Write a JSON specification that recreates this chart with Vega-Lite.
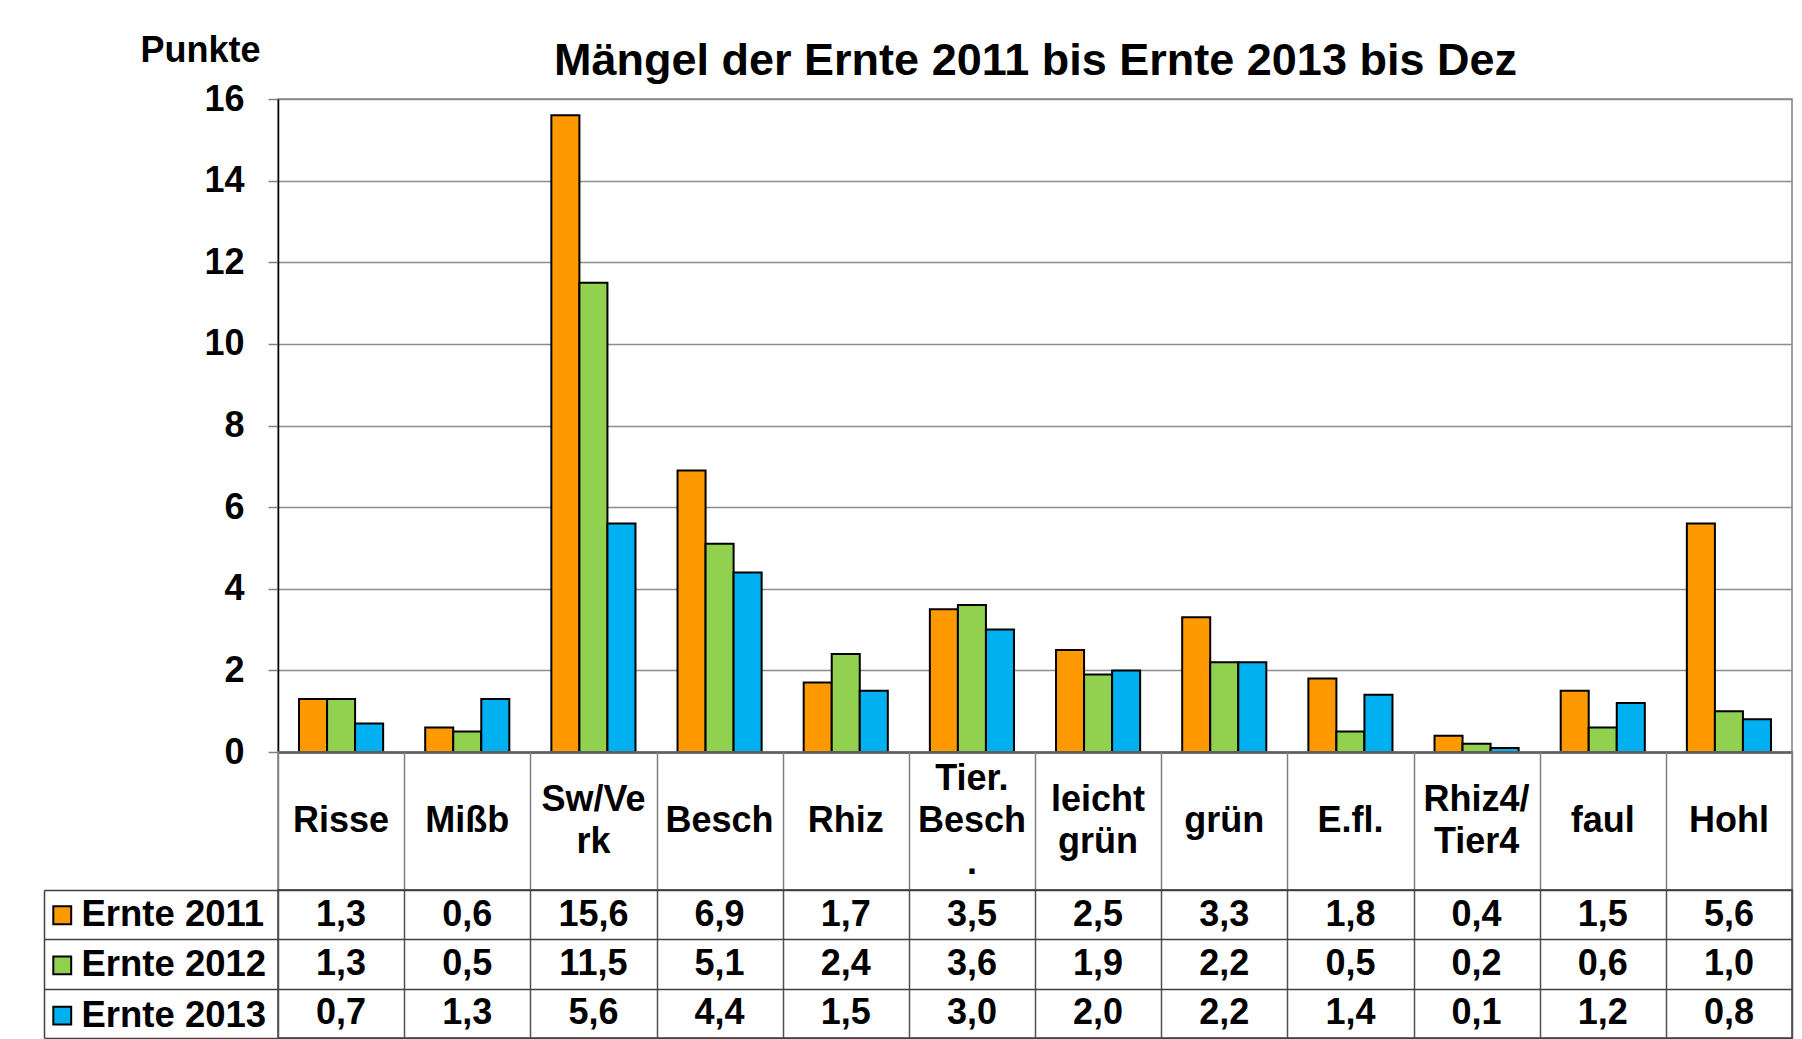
{
  "$schema": "https://vega.github.io/schema/vega-lite/v6.json",
  "background": "white",
  "padding": {"left": 42, "top": 31, "right": 10, "bottom": 0},
  "spacing": 0,
  "bounds": "flush",
  "datasets": {
    "main": [
      {"cat": "Risse", "series": "Ernte 2011", "value": 1.3},
      {"cat": "Risse", "series": "Ernte 2012", "value": 1.3},
      {"cat": "Risse", "series": "Ernte 2013", "value": 0.7},
      {"cat": "Mißb", "series": "Ernte 2011", "value": 0.6},
      {"cat": "Mißb", "series": "Ernte 2012", "value": 0.5},
      {"cat": "Mißb", "series": "Ernte 2013", "value": 1.3},
      {"cat": "Sw/Verk", "series": "Ernte 2011", "value": 15.6},
      {"cat": "Sw/Verk", "series": "Ernte 2012", "value": 11.5},
      {"cat": "Sw/Verk", "series": "Ernte 2013", "value": 5.6},
      {"cat": "Besch", "series": "Ernte 2011", "value": 6.9},
      {"cat": "Besch", "series": "Ernte 2012", "value": 5.1},
      {"cat": "Besch", "series": "Ernte 2013", "value": 4.4},
      {"cat": "Rhiz", "series": "Ernte 2011", "value": 1.7},
      {"cat": "Rhiz", "series": "Ernte 2012", "value": 2.4},
      {"cat": "Rhiz", "series": "Ernte 2013", "value": 1.5},
      {"cat": "Tier.Besch.", "series": "Ernte 2011", "value": 3.5},
      {"cat": "Tier.Besch.", "series": "Ernte 2012", "value": 3.6},
      {"cat": "Tier.Besch.", "series": "Ernte 2013", "value": 3.0},
      {"cat": "leicht grün", "series": "Ernte 2011", "value": 2.5},
      {"cat": "leicht grün", "series": "Ernte 2012", "value": 1.9},
      {"cat": "leicht grün", "series": "Ernte 2013", "value": 2.0},
      {"cat": "grün", "series": "Ernte 2011", "value": 3.3},
      {"cat": "grün", "series": "Ernte 2012", "value": 2.2},
      {"cat": "grün", "series": "Ernte 2013", "value": 2.2},
      {"cat": "E.fl.", "series": "Ernte 2011", "value": 1.8},
      {"cat": "E.fl.", "series": "Ernte 2012", "value": 0.5},
      {"cat": "E.fl.", "series": "Ernte 2013", "value": 1.4},
      {"cat": "Rhiz4/Tier4", "series": "Ernte 2011", "value": 0.4},
      {"cat": "Rhiz4/Tier4", "series": "Ernte 2012", "value": 0.2},
      {"cat": "Rhiz4/Tier4", "series": "Ernte 2013", "value": 0.1},
      {"cat": "faul", "series": "Ernte 2011", "value": 1.5},
      {"cat": "faul", "series": "Ernte 2012", "value": 0.6},
      {"cat": "faul", "series": "Ernte 2013", "value": 1.2},
      {"cat": "Hohl", "series": "Ernte 2011", "value": 5.6},
      {"cat": "Hohl", "series": "Ernte 2012", "value": 1.0},
      {"cat": "Hohl", "series": "Ernte 2013", "value": 0.8}
    ],
    "cats": [
      {"cat": "Risse", "label": "Risse"},
      {"cat": "Mißb", "label": "Mißb"},
      {"cat": "Sw/Verk", "label": "Sw/Ve\nrk"},
      {"cat": "Besch", "label": "Besch"},
      {"cat": "Rhiz", "label": "Rhiz"},
      {"cat": "Tier.Besch.", "label": "Tier.\nBesch\n."},
      {"cat": "leicht grün", "label": "leicht\ngrün"},
      {"cat": "grün", "label": "grün"},
      {"cat": "E.fl.", "label": "E.fl."},
      {"cat": "Rhiz4/Tier4", "label": "Rhiz4/\nTier4"},
      {"cat": "faul", "label": "faul"},
      {"cat": "Hohl", "label": "Hohl"}
    ]
  },
  "vconcat": [
    {
      "width": 1514,
      "height": 653,
      "data": {"name": "main"},
      "encoding": {
        "y": {
          "field": "value", "type": "quantitative",
          "scale": {"domain": [0, 16], "nice": false},
          "axis": {
            "values": [0, 2, 4, 6, 8, 10, 12, 14, 16],
            "labelFontSize": 36, "labelFont": "Liberation Sans", "labelFontWeight": "bold", "labelColor": "black",
            "labelPadding": 24,
            "ticks": true, "tickSize": 10, "tickColor": "#808080", "tickWidth": 1.5,
            "domain": true, "domainColor": "black", "domainWidth": 1.5,
            "grid": true, "gridColor": "#8c8c8c", "gridWidth": 1.5,
            "title": "Punkte", "titleAngle": 0, "titleAlign": "right", "titleBaseline": "middle",
            "titleX": -18, "titleY": -49,
            "titleFontSize": 36, "titleFont": "Liberation Sans", "titleFontWeight": "bold", "titleColor": "black"
          }
        }
      },
      "layer": [
        {
          "mark": {"type": "bar", "stroke": "black", "strokeWidth": 2},
          "encoding": {
            "x": {
              "field": "cat", "type": "nominal",
              "sort": ["Risse", "Mißb", "Sw/Verk", "Besch", "Rhiz", "Tier.Besch.", "leicht grün", "grün", "E.fl.", "Rhiz4/Tier4", "faul", "Hohl"],
              "scale": {"paddingInner": 0.3333, "paddingOuter": 0.1667},
              "axis": {"orient": "bottom", "labels": false, "ticks": false, "domain": true, "domainColor": "black", "domainWidth": 2, "grid": false, "title": null}
            },
            "xOffset": {"field": "series", "type": "nominal", "sort": ["Ernte 2011", "Ernte 2012", "Ernte 2013"]},
            "color": {
              "field": "series", "type": "nominal",
              "scale": {"domain": ["Ernte 2011", "Ernte 2012", "Ernte 2013"], "range": ["#FF9900", "#92D050", "#00B0F0"]},
              "legend": null
            }
          }
        },
        {
          "mark": {"type": "tick", "opacity": 0},
          "encoding": {
            "x": {
              "field": "cat", "type": "nominal",
              "sort": ["Risse", "Mißb", "Sw/Verk", "Besch", "Rhiz", "Tier.Besch.", "leicht grün", "grün", "E.fl.", "Rhiz4/Tier4", "faul", "Hohl"],
              "axis": {
                "orient": "top", "labels": false, "ticks": false, "domain": false, "grid": false,
                "title": "Mängel der Ernte 2011 bis Ernte 2013 bis Dez",
                "titleFontSize": 45, "titleFont": "Liberation Sans", "titleFontWeight": "bold", "titleColor": "black",
                "titleBaseline": "alphabetic", "titleY": -24.5, "titleAnchor": "middle"
              }
            }
          }
        }
      ],
      "resolve": {"axis": {"x": "independent"}}
    },
    {
      "width": 1514,
      "height": 138,
      "data": {"name": "cats"},
      "encoding": {
        "x": {
          "field": "cat", "type": "nominal",
          "sort": ["Risse", "Mißb", "Sw/Verk", "Besch", "Rhiz", "Tier.Besch.", "leicht grün", "grün", "E.fl.", "Rhiz4/Tier4", "faul", "Hohl"],
          "scale": {"paddingInner": 0, "paddingOuter": 0},
          "axis": {"labels": false, "ticks": false, "domain": false, "grid": true, "tickBand": "extent", "gridColor": "#808080", "gridWidth": 1.5, "title": null}
        },
        "text": {"field": "label", "type": "nominal"}
      },
      "layer": [
        {
          "transform": [{"filter": {"not": {"field": "cat", "oneOf": ["Sw/Verk", "Tier.Besch.", "leicht grün", "Rhiz4/Tier4"]}}}],
          "mark": {"type": "text", "fontSize": 36, "font": "Liberation Sans", "fontWeight": "bold", "lineBreak": "\n", "lineHeight": 42, "baseline": "middle", "align": "center", "color": "black"}
        },
        {
          "transform": [{"filter": {"field": "cat", "oneOf": ["Sw/Verk", "leicht grün", "Rhiz4/Tier4"]}}],
          "mark": {"type": "text", "fontSize": 36, "font": "Liberation Sans", "fontWeight": "bold", "lineBreak": "\n", "lineHeight": 42, "baseline": "middle", "align": "center", "color": "black", "dy": -21}
        },
        {
          "transform": [{"filter": {"field": "cat", "equal": "Tier.Besch."}}],
          "mark": {"type": "text", "fontSize": 36, "font": "Liberation Sans", "fontWeight": "bold", "lineBreak": "\n", "lineHeight": 42, "baseline": "middle", "align": "center", "color": "black", "dy": -42}
        }
      ]
    },
    {
      "width": 1514,
      "height": 148,
      "data": {"name": "main"},
      "view": {"stroke": "#404040", "strokeWidth": 1.5},
      "encoding": {
        "x": {
          "field": "cat", "type": "nominal",
          "sort": ["Risse", "Mißb", "Sw/Verk", "Besch", "Rhiz", "Tier.Besch.", "leicht grün", "grün", "E.fl.", "Rhiz4/Tier4", "faul", "Hohl"],
          "scale": {"paddingInner": 0, "paddingOuter": 0},
          "axis": {"labels": false, "ticks": false, "domain": false, "grid": true, "tickBand": "extent", "gridColor": "#505050", "gridWidth": 1.5, "title": null}
        },
        "y": {
          "field": "series", "type": "nominal",
          "sort": ["Ernte 2011", "Ernte 2012", "Ernte 2013"],
          "scale": {"paddingInner": 0, "paddingOuter": 0},
          "axis": {
            "orient": "left", "offset": 234, "labels": false,
            "domain": true, "domainColor": "#404040", "domainWidth": 1.5,
            "ticks": true, "tickSize": -234, "tickColor": "#404040", "tickWidth": 1.5, "tickBand": "extent",
            "grid": true, "gridColor": "#404040", "gridWidth": 1.5, "title": null
          }
        }
      },
      "layer": [
        {
          "mark": {"type": "text", "fontSize": 36, "font": "Liberation Sans", "fontWeight": "bold", "baseline": "middle", "align": "center", "color": "black"},
          "encoding": {
            "text": {"field": "value", "type": "quantitative", "format": ".1f"}
          }
        },
        {
          "mark": {"type": "square", "opacity": 0, "size": 10},
          "encoding": {
            "color": {
              "field": "series", "type": "nominal",
              "scale": {"domain": ["Ernte 2011", "Ernte 2012", "Ernte 2013"], "range": ["#FF9900", "#92D050", "#00B0F0"]},
              "legend": {
                "orient": "none", "legendX": -234, "legendY": 7, "direction": "vertical", "title": null,
                "symbolType": "square", "symbolSize": 320, "symbolStrokeColor": "black", "symbolStrokeWidth": 2, "symbolOpacity": 1,
                "labelFontSize": 36.5, "labelFont": "Liberation Sans", "labelFontWeight": "bold", "labelColor": "black",
                "labelOffset": 1, "labelLimit": 400, "rowPadding": 13.17, "padding": 0
              }
            }
          }
        }
      ]
    }
  ],
  "resolve": {"scale": {"color": "independent"}, "legend": {"color": "independent"}},
  "config": {
    "font": "Liberation Sans",
    "view": {"stroke": "#808080", "strokeWidth": 1.5},
    "locale": {"number": {"decimal": ",", "thousands": ".", "grouping": [3], "currency": ["", " €"]}}
  }
}
